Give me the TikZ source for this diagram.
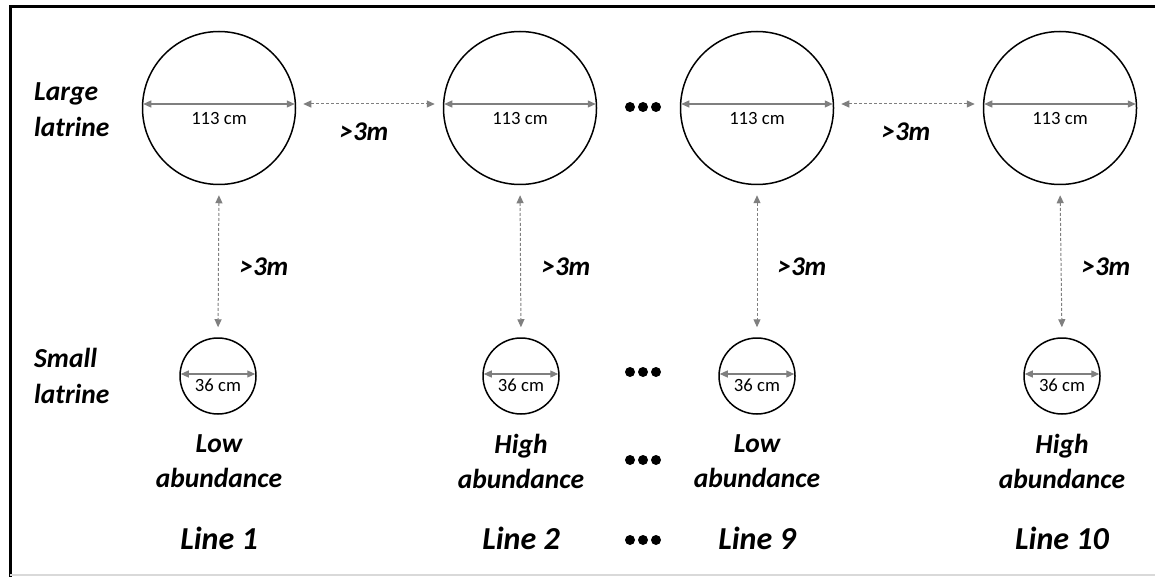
\documentclass[tikz,border=0pt]{standalone}
\usepackage{fontspec}
\setmainfont{Carlito}
\usetikzlibrary{arrows.meta}
\definecolor{arrowgray}{HTML}{7F7F7F}
\tikzset{
  big/.style={circle, draw=black, line width=1.5pt, minimum size=153pt, inner sep=0pt},
  small/.style={circle, draw=black, line width=1.5pt, minimum size=76pt, inner sep=0pt},
  diam/.style={draw=arrowgray, line width=1.2pt, {Triangle[length=8pt,width=7pt]}-{Triangle[length=8pt,width=7pt]}, shorten <=1.5pt, shorten >=1.5pt},
  gap/.style={draw=arrowgray, line width=1pt, dash pattern=on 3pt off 2pt, {Triangle[length=8pt,width=7pt]}-{Triangle[length=8pt,width=7pt]}},
  cmtext/.style={font=\fontsize{18.7}{20}\selectfont, inner sep=0pt},
  dist/.style={font=\fontsize{27}{30}\selectfont\bfseries\itshape, inner sep=0pt},
  rowlab/.style={font=\fontsize{27.5}{36}\selectfont\bfseries\itshape, align=left, anchor=west, inner sep=0pt},
  abund/.style={font=\fontsize{27.5}{35}\selectfont\bfseries\itshape, align=center, inner sep=0pt},
  linelab/.style={font=\fontsize{32}{34}\selectfont\bfseries\itshape, inner sep=0pt},
  dotsym/.style={circle, fill=black, inner sep=0pt, minimum size=10pt}
}
\begin{document}
\begin{tikzpicture}[x=1pt,y=-1pt]
\useasboundingbox (0,0) rectangle (1155,577);
% frame
\draw[line width=3pt, line cap=rect] (1155,7) -- (10,7) -- (10,577);
\draw[color=black!15, line width=1.5pt] (10,575) -- (1155,575);

% large circles
\node[big] (L1) at (219,108) {};
\node[big] (L2) at (520,108) {};
\node[big] (L3) at (757,108) {};
\node[big] (L4) at (1060,108) {};
% small circles
\node[small] (S1) at (218,376) {};
\node[small] (S2) at (521,376) {};
\node[small] (S3) at (757,376) {};
\node[small] (S4) at (1062,376) {};

% diameters
\foreach \n in {1,2,3,4}{
  \draw[diam] (L\n.west |- 0,104) -- (L\n.east |- 0,104);
  \node[cmtext] (LT\n) at ([yshift=-14pt]L\n.center |- 0,104) {113 cm};
  \draw[diam] (S\n.west |- 0,374) -- (S\n.east |- 0,374);
  \node[cmtext] (ST\n) at ([yshift=-11pt]S\n.center |- 0,374) {36 cm};
}

% horizontal gaps
\coordinate (h1a) at (L1.east |- 0,104);
\coordinate (h1b) at (L2.west |- 0,104);
\draw[gap, shorten <=7pt, shorten >=8pt] (h1a) -- (h1b);
\node[dist] (d1) at (364,132) {>3m};
\coordinate (h3a) at (L3.east |- 0,104);
\coordinate (h3b) at (L4.west |- 0,104);
\draw[gap, shorten <=7pt, shorten >=8pt] (h3a) -- (h3b);
\node[dist] (d3) at (906,132) {>3m};

% vertical gaps
\foreach \n/\lx in {1/264,2/566,3/802,4/1106}{
  \draw[gap, shorten <=10pt, shorten >=10pt] (L\n.south) -- (S\n.north);
  \node[dist] (v\n) at (\lx,267) {>3m};
}

% row labels
\node[rowlab] (large) at (34,110) {Large\\latrine};
\node[rowlab] (smalllab) at (34,376) {Small\\latrine};

% abundance
\node[abund] (a1) at (219,461) {Low\\abundance};
\node[abund] (a2) at (521,461) {High\\abundance};
\node[abund] (a3) at (757,461) {Low\\abundance};
\node[abund] (a4) at (1062,461) {High\\abundance};

% lines
\node[linelab] (l1) at (219,538) {Line 1};
\node[linelab] (l2) at (521,538) {Line 2};
\node[linelab] (l3) at (757,538) {Line 9};
\node[linelab] (l4) at (1062,538) {Line 10};

% ellipses
\foreach \y/\nm in {107/a,372/b,460/c,540/d}{
  \node[dotsym] (dot\nm1) at (630,\y) {};
  \node[dotsym] (dot\nm2) at (643,\y) {};
  \node[dotsym] (dot\nm3) at (656,\y) {};
}
\end{tikzpicture}
\end{document}
